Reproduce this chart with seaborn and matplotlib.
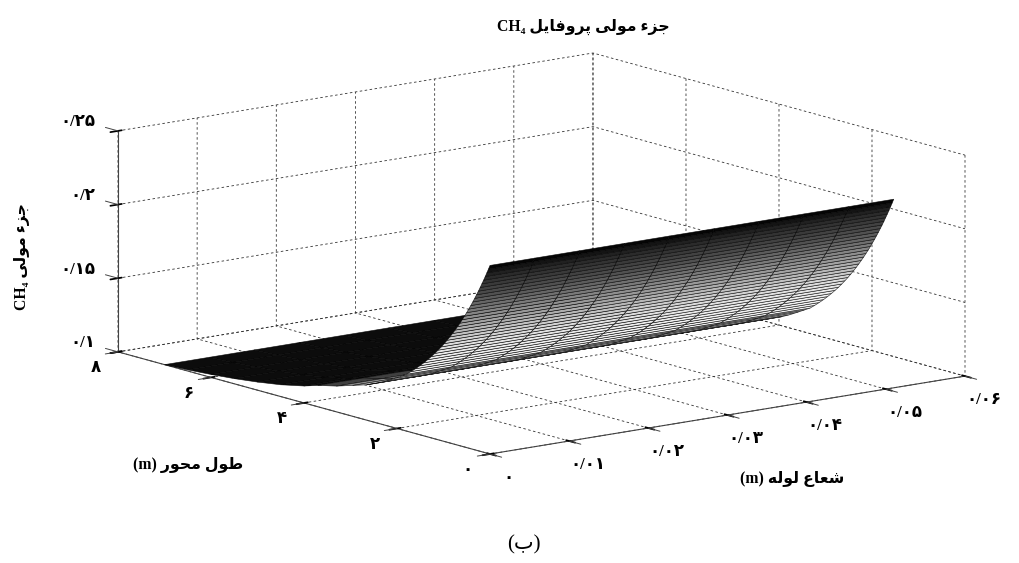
import numpy as np
import seaborn as sns
import matplotlib
matplotlib.use('Agg')
import matplotlib.pyplot as plt
from mpl_toolkits.mplot3d import proj3d

# Values
radius = [0.0, 0.00567, 0.01133, 0.017, 0.02267, 0.02833, 0.034, 0.03967, 0.04533, 0.051]
length = [0, 0.033, 0.067, 0.102, 0.137, 0.174, 0.211, 0.249, 0.289, 0.329,
          0.370, 0.413, 0.457, 0.502, 0.548, 0.597, 0.646, 0.698, 0.751, 0.806,
          0.863, 0.923, 0.984, 1.049, 1.117, 1.187, 1.262, 1.340, 1.422, 1.509,
          1.602, 1.70, 1.80, 1.93, 2.06, 2.22, 2.4, 2.65, 2.95, 3.3,
          3.7, 4.0, 4.5, 5.0, 5.5, 6.0, 6.5, 7.0]
ch4_fraction = [0.228, 0.2252, 0.2224, 0.2196, 0.2168, 0.214, 0.2112, 0.2084, 0.2056, 0.2028,
                0.2, 0.1972, 0.1944, 0.1916, 0.1888, 0.186, 0.1832, 0.1804, 0.1776, 0.1748,
                0.172, 0.1692, 0.1664, 0.1636, 0.1608, 0.158, 0.1552, 0.1524, 0.1496, 0.1468,
                0.144, 0.1412, 0.1385, 0.136, 0.1335, 0.1305, 0.1275, 0.124, 0.121, 0.1175,
                0.1145, 0.1115, 0.108, 0.1055, 0.1035, 0.102, 0.1008, 0.1]
# grey level of each row of the mesh
row_grey = [0.02, 0.08, 0.13, 0.17, 0.20, 0.23, 0.26, 0.29, 0.32, 0.36,
            0.40, 0.44, 0.48, 0.52, 0.56, 0.60, 0.64, 0.68, 0.72, 0.76,
            0.80, 0.83, 0.86, 0.88, 0.90, 0.92, 0.93, 0.94, 0.95, 0.95,
            0.95, 0.94, 0.93, 0.92, 0.90, 0.86, 0.80, 0.72, 0.55, 0.25,
            0.05, 0.05, 0.05, 0.05, 0.05, 0.05, 0.05, 0.05]

x_ticks = [0, 0.01, 0.02, 0.03, 0.04, 0.05, 0.06]
x_labels = ['۰', '۰/۰۱', '۰/۰۲', '۰/۰۳', '۰/۰۴', '۰/۰۵', '۰/۰۶']
y_ticks = [0, 2, 4, 6, 8]
y_labels = ['۰', '۲', '۴', '۶', '۸']
z_ticks = [0.1, 0.15, 0.2, 0.25]
z_labels = ['۰/۱', '۰/۱۵', '۰/۲', '۰/۲۵']

# matplotlib does not shape Arabic text, so pick the joined forms by hand
FORMS = {'ج': 'ﺝﺞﺟﺠ', 'ز': 'ﺯﺰ', 'ء': 'ﺀ', 'م': 'ﻡﻢﻣﻤ', 'و': 'ﻭﻮ', 'ل': 'ﻝﻞﻟﻠ',
         'ی': 'ﯼﯽﯾﯿ', 'پ': 'ﭖﭗﭘﭙ', 'ر': 'ﺭﺮ', 'ف': 'ﻑﻒﻓﻔ', 'ا': 'ﺍﺎ', 'ط': 'ﻁﻂﻃﻄ',
         'ح': 'ﺡﺢﺣﺤ', 'ش': 'ﺵﺶﺷﺸ', 'ع': 'ﻉﻊﻋﻌ', 'ه': 'ﻩﻪﻫﻬ', 'ب': 'ﺏﺐﺑﺒ'}


def shape(text):
    out = []
    for i, ch in enumerate(text):
        if ch not in FORMS:
            out.append(ch)
            continue
        before = i > 0 and text[i - 1] in FORMS and len(FORMS[text[i - 1]]) == 4
        after = i + 1 < len(text) and text[i + 1] in FORMS and len(FORMS[ch]) == 4
        out.append(FORMS[ch][{(0, 0): 0, (1, 0): 1, (0, 1): 2, (1, 1): 3}[(int(before), int(after))]])
    return ''.join(reversed(out))


sns.set_theme(style='ticks', rc={'grid.linestyle': (0, (3, 3)), 'grid.linewidth': 0.6,
                                 'grid.color': '#333333', 'axes.linewidth': 0.8,
                                 'text.color': 'black'})
fonts = ['Liberation Serif', 'DejaVu Sans']

W, H = 1019, 563
fig = plt.figure(figsize=(W / 100, H / 100), dpi=100)
ax = fig.add_axes([0, -0.4, 1, 1.8], projection='3d', proj_type='ortho')
ax.set_xlim(0, 0.06, view_margin=0)
ax.set_ylim(0, 8, view_margin=0)
ax.set_zlim(0.1, 0.25, view_margin=0)
ax.view_init(elev=12.25, azim=232.3)
ax.set_box_aspect((600, 608, 226))

# Surface, same profile across the radius
R, L = np.meshgrid(radius, length)
Z = np.tile(np.array(ch4_fraction).reshape(-1, 1), (1, len(radius)))
grey = np.tile(np.array(row_grey).reshape(-1, 1), (1, len(radius)))
ax.plot_surface(R, L, Z, facecolors=plt.cm.gray(grey), rstride=1, cstride=1, shade=False,
                edgecolor=(0, 0, 0, 0.8), linewidth=0.45, antialiased=True)

ax.set_xticks(x_ticks, x_labels, fontsize=12, fontweight='bold', family=fonts)
ax.set_yticks(y_ticks, y_labels, fontsize=12, fontweight='bold', family=fonts)
ax.set_zticks(z_ticks, z_labels, fontsize=12, fontweight='bold', family=fonts)
ax.tick_params(colors='black', labelcolor='black')
ax.tick_params(axis='x', pad=11)
ax.tick_params(axis='y', pad=10)
ax.tick_params(axis='z', pad=2)
for label in ax.get_zticklabels():
    label.set_va('bottom')
    label.set_ha('right')
for label in ax.get_yticklabels():
    label.set_va('center_baseline')

for axis in (ax.xaxis, ax.yaxis, ax.zaxis):
    axis.set_pane_color((1, 1, 1, 0))
    axis.pane.set_edgecolor((1, 1, 1, 0))
    axis.line.set_color('#444444')
    axis.line.set_linewidth(0.8)

# Tick marks stick out of the box along the grid lines
tick_style = dict(color='#444444', linewidth=0.7)
for t in x_ticks:
    ax.plot([t, t], [0, -0.25], [0.1, 0.1], **tick_style)
for t in y_ticks:
    ax.plot([0, -0.0016], [t, t], [0.1, 0.1], **tick_style)
for t in z_ticks:
    ax.plot([0, 0], [8, 8.27], [t, t], **tick_style)


def to_px(x, y, z):
    u, v, _ = proj3d.proj_transform(x, y, z, ax.get_proj())
    px = ax.transData.transform((u, v))
    return np.array([px[0], H - px[1]])


# Fit the box on the corners seen in the picture: origin at (490, 454), far x end at (965, 376)
fig.canvas.draw()
scale = 475 / (to_px(0.06, 0, 0.1) - to_px(0, 0, 0.1))[0]
ax.set_box_aspect((600, 608, 226), zoom=scale)
fig.canvas.draw()
shift = np.array([490, 454]) - to_px(0, 0, 0.1)
pos = ax.get_position(original=True)
ax.set_position([pos.x0 + shift[0] / W, pos.y0 - shift[1] / H, pos.width, pos.height])

fig.text(583 / W, 1 - 27 / H, 'CH₄ ' + shape('جزء مولی پروفایل'), ha='center', va='center',
         fontsize=11.3, fontweight='bold', family=fonts)
fig.text(22 / W, 1 - 257 / H, 'CH₄ ' + shape('جزء مولی'), rotation=90, ha='center', va='center',
         fontsize=11.3, fontweight='bold', family=fonts)
fig.text(188 / W, 1 - 465 / H, '(m) ' + shape('طول محور'), ha='center', va='center',
         fontsize=11.3, fontweight='bold', family=fonts)
fig.text(792 / W, 1 - 479 / H, '(m) ' + shape('شعاع لوله'), ha='center', va='center',
         fontsize=11.3, fontweight='bold', family=fonts)
fig.text(524 / W, 1 - 545 / H, '(' + shape('ب') + ')', ha='center', va='center',
         fontsize=15, family=fonts)

fig.savefig('out.png', dpi=100, facecolor='white')
